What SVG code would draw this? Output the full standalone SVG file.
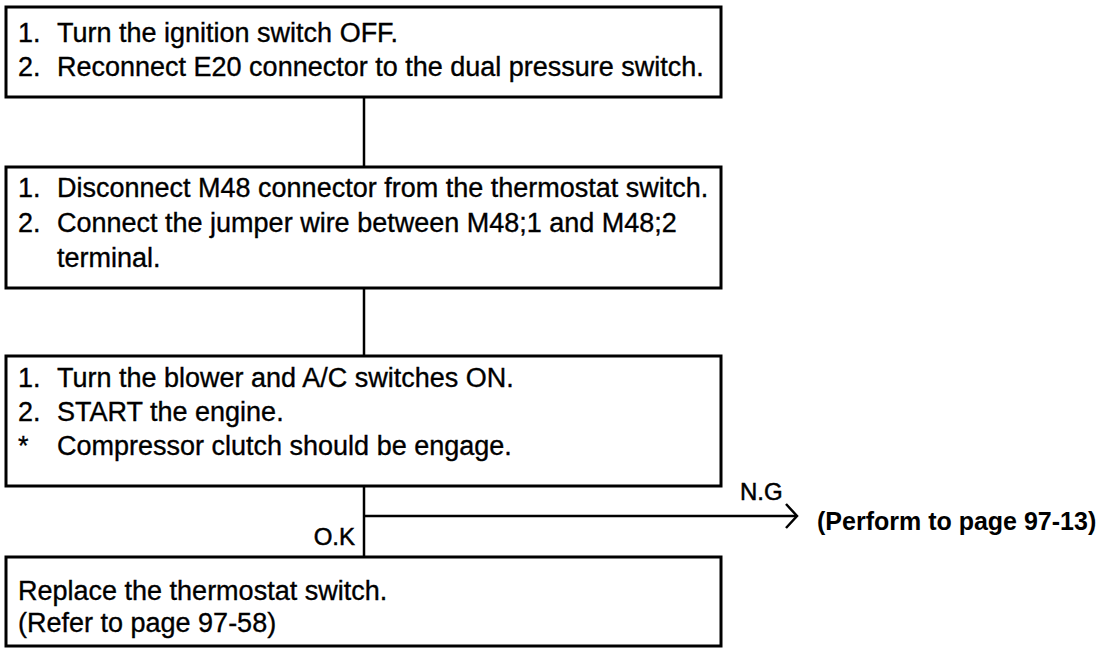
<svg xmlns="http://www.w3.org/2000/svg" width="1106" height="648" viewBox="0 0 1106 648">
<defs>
<style>
.box{fill:#fff;stroke:#000;stroke-width:3}
.t{font-family:"Liberation Sans",Arial,sans-serif;font-size:27px;fill:#000;stroke:#000;stroke-width:0.35}
.l{font-family:"Liberation Sans",Arial,sans-serif;font-size:24px;fill:#000;stroke:#000;stroke-width:0.5}
.b{font-family:"Liberation Sans",Arial,sans-serif;font-size:25px;font-weight:bold;fill:#000}
.c{fill:none;stroke:#000;stroke-width:2.5}
</style>
<marker id="arr" viewBox="0 0 14 26" refX="12" refY="13" markerWidth="14" markerHeight="26" markerUnits="userSpaceOnUse" orient="auto">
<path d="M1,1 L12,13 L1,25" fill="none" stroke="#000" stroke-width="2.5"/>
</marker>
</defs>
<rect width="1106" height="648" fill="#fff"/>
<g id="connectors">
<line class="c" x1="364" y1="97" x2="364" y2="167"/>
<line class="c" x1="364" y1="288" x2="364" y2="356"/>
<line class="c" x1="364" y1="486" x2="364" y2="557"/>
<line class="c" x1="364" y1="516" x2="797" y2="516" marker-end="url(#arr)"/>
<text class="l" x="740" y="500">N.G</text>
<text class="l" x="355" y="545" text-anchor="end">O.K</text>
</g>
<g id="step1">
<rect class="box" x="6" y="7" width="715" height="90"/>
<text class="t" x="18" y="42">1.</text><text class="t" x="57" y="42">Turn the ignition switch OFF.</text>
<text class="t" x="18" y="76">2.</text><text class="t" x="57" y="76">Reconnect E20 connector to the dual pressure switch.</text>
</g>
<g id="step2">
<rect class="box" x="6" y="167" width="715" height="121"/>
<text class="t" x="18" y="197">1.</text><text class="t" x="57" y="197">Disconnect M48 connector from the thermostat switch.</text>
<text class="t" x="18" y="232">2.</text><text class="t" x="57" y="232">Connect the jumper wire between M48;1 and M48;2</text>
<text class="t" x="57" y="267">terminal.</text>
</g>
<g id="step3">
<rect class="box" x="6" y="356" width="715" height="130"/>
<text class="t" x="18" y="387">1.</text><text class="t" x="57" y="387">Turn the blower and A/C switches ON.</text>
<text class="t" x="18" y="421">2.</text><text class="t" x="57" y="421">START the engine.</text>
<text class="t" x="18" y="455">*</text><text class="t" x="57" y="455">Compressor clutch should be engage.</text>
</g>
<g id="replace">
<rect class="box" x="6" y="557" width="715" height="89"/>
<text class="t" x="18" y="600">Replace the thermostat switch.</text>
<text class="t" x="18" y="632">(Refer to page 97-58)</text>
</g>
<g id="perform">
<text class="b" x="817" y="530">(Perform to page 97-13)</text>
</g>
</svg>
